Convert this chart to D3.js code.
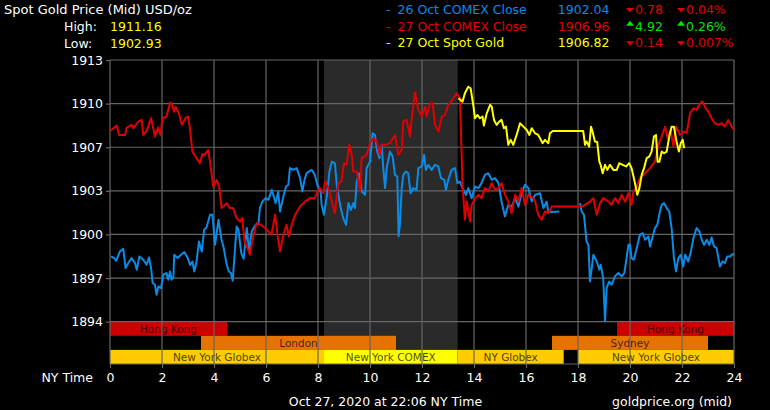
<!DOCTYPE html>
<html><head><meta charset="utf-8">
<script src="https://cdn.jsdelivr.net/npm/d3@7"></script>
<style>
html,body{margin:0;padding:0;background:#000;}
svg{display:block;font-family:"DejaVu Sans",Verdana,sans-serif;}
</style></head>
<body><svg id="c" width="770" height="410"></svg>
<script>
// ---------------- DATA ----------------
const titleText = "Spot Gold Price (Mid) USD/oz";
const highLowLabels = ["High:", "Low:"];
const highLowValues = ["1911.16", "1902.93"];

const seriesNames = ["26 Oct COMEX Close", "27 Oct COMEX Close", "27 Oct Spot Gold"];
const seriesPrices = ["1902.04", "1906.96", "1906.82"];
const seriesChange = ["0.78", "4.92", "0.14"];
const seriesChangePct = ["0.04%", "0.26%", "0.007%"];
const seriesDir = ["down", "up", "down"];

const xTickValues = [0, 2, 4, 6, 8, 10, 12, 14, 16, 18, 20, 22, 24];
const xTickLabels = ["0", "2", "4", "6", "8", "10", "12", "14", "16", "18", "20", "22", "24"];
const yTickValues = [1894, 1897.1667, 1900.3333, 1903.5, 1906.6667, 1909.8333, 1913];
const yTickLabels = ["1894", "1897", "1900", "1903", "1907", "1910", "1913"];

const sessionNames = ["Hong Kong", "Hong Kong", "London", "Sydney", "New York Globex", "New York COMEX", "NY Globex", "New York Globex"];
const sessionStart = [0, 19.5, 3.5, 17, 0, 8.23, 13.37, 18];
const sessionEnd = [4.5, 24, 11, 23, 8.23, 13.37, 17.45, 24];
const sessionRow = [0, 0, 1, 1, 2, 2, 2, 2];
const comexWindow = [8.23, 13.37];

const blueHours = [0.04,0.16,0.24,0.38,0.51,0.60,0.70,0.83,0.96,1.03,1.13,1.28,1.41,1.50,1.58,1.64,1.73,1.79,1.86,1.96,2.05,2.17,2.24,2.31,2.37,2.44,2.47,2.60,2.73,2.86,2.99,3.08,3.17,3.24,3.33,3.42,3.53,3.62,3.71,3.85,3.94,4.04,4.17,4.29,4.37,4.49,4.57,4.65,4.72,4.81,4.87,4.94,5.05,5.14,5.26,5.35,5.45,5.58,5.71,5.77,5.86,5.99,6.09,6.22,6.28,6.37,6.47,6.54,6.67,6.77,6.86,6.92,7.05,7.18,7.31,7.40,7.48,7.56,7.65,7.76,7.88,7.97,8.10,8.14,8.23,8.33,8.44,8.53,8.65,8.72,8.85,8.97,9.08,9.17,9.27,9.36,9.42,9.49,9.59,9.68,9.81,9.87,10.00,10.10,10.19,10.28,10.36,10.45,10.51,10.58,10.64,10.77,10.87,10.96,11.05,11.10,11.15,11.22,11.28,11.38,11.47,11.56,11.67,11.79,11.86,11.99,12.08,12.15,12.24,12.37,12.50,12.63,12.73,12.86,12.92,13.01,13.14,13.27,13.36,13.46,13.56,13.69,13.78,13.91,14.04,14.17,14.29,14.42,14.55,14.68,14.81,14.94,15.06,15.19,15.32,15.45,15.58,15.71,15.83,15.96,16.09,16.22,16.35,16.54,16.67,16.79,16.86,16.99,17.28,17.60,18.08,18.14,18.23,18.33,18.40,18.46,18.53,18.59,18.72,18.82,18.87,18.97,19.04,19.10,19.20,19.29,19.42,19.55,19.68,19.78,19.85,19.94,20.00,20.06,20.15,20.26,20.38,20.49,20.58,20.71,20.77,20.87,20.96,21.05,21.15,21.22,21.31,21.41,21.51,21.60,21.69,21.77,21.86,21.95,22.05,22.12,22.24,22.33,22.44,22.56,22.67,22.76,22.85,22.95,23.05,23.14,23.23,23.33,23.40,23.46,23.56,23.65,23.74,23.85,23.95,24.00];
const bluePrices = [1898.74,1898.62,1898.42,1899.10,1899.29,1897.89,1898.26,1898.62,1898.26,1897.77,1898.74,1898.50,1898.13,1898.66,1897.89,1896.81,1896.68,1895.96,1896.56,1896.44,1897.41,1897.53,1897.05,1897.65,1897.05,1897.29,1898.86,1898.62,1898.86,1899.05,1898.62,1898.13,1898.37,1897.65,1898.37,1899.82,1899.10,1900.67,1900.84,1901.76,1901.76,1899.58,1901.40,1899.95,1899.39,1898.13,1897.65,1897.53,1896.97,1899.34,1900.91,1900.67,1898.98,1898.57,1900.80,1899.10,1900.55,1900.98,1901.16,1902.29,1902.72,1902.97,1902.85,1903.57,1903.21,1902.61,1903.45,1902.00,1903.09,1903.81,1903.94,1905.15,1905.02,1905.15,1904.42,1903.45,1904.30,1904.78,1904.90,1905.02,1904.66,1903.94,1903.45,1902.48,1901.76,1902.97,1904.90,1905.62,1905.51,1903.94,1902.48,1901.52,1901.03,1902.61,1902.12,1902.61,1902.25,1904.17,1904.78,1903.45,1903.21,1905.15,1905.62,1907.68,1907.56,1906.35,1905.87,1906.84,1905.15,1903.70,1905.15,1906.35,1905.99,1904.66,1904.54,1900.19,1901.03,1903.70,1904.66,1904.90,1904.78,1903.33,1903.70,1903.57,1905.15,1905.27,1906.11,1905.02,1905.39,1905.02,1905.39,1905.27,1904.42,1904.30,1903.57,1904.30,1905.02,1905.15,1904.06,1904.17,1903.70,1903.21,1903.70,1902.97,1903.81,1903.70,1904.06,1904.66,1904.78,1904.30,1904.42,1904.06,1902.72,1901.64,1902.48,1902.36,1902.97,1902.36,1903.33,1903.94,1903.70,1902.72,1903.21,1903.33,1902.25,1902.72,1902.00,1901.96,1902.00,null,1902.61,1902.00,1901.76,1899.82,1899.58,1896.92,1897.89,1898.86,1898.37,1897.77,1898.13,1897.17,1894.02,1896.44,1896.92,1896.68,1897.29,1897.53,1897.29,1897.53,1898.37,1899.58,1899.58,1898.62,1898.50,1899.34,1900.31,1900.43,1899.95,1900.19,1899.46,1900.19,1900.80,1901.03,1902.00,1902.48,1902.61,1902.25,1902.00,1900.80,1898.62,1897.65,1898.62,1898.86,1898.01,1898.86,1898.37,1898.98,1900.07,1900.80,1900.55,1899.95,1899.58,1899.95,1899.58,1900.11,1899.46,1899.34,1898.62,1898.01,1898.37,1898.26,1898.74,1898.74,1898.91,1898.86];

const redHours = [0.00,0.26,0.35,0.58,0.64,0.83,0.90,1.09,1.22,1.28,1.41,1.58,1.73,1.85,1.95,2.01,2.17,2.31,2.37,2.46,2.52,2.65,2.76,2.90,3.00,3.08,3.17,3.33,3.46,3.55,3.64,3.78,3.88,3.97,4.10,4.20,4.29,4.49,4.60,4.74,4.87,5.00,5.08,5.19,5.29,5.38,5.51,5.64,5.82,6.03,6.21,6.35,6.45,6.54,6.67,6.79,6.88,6.99,7.12,7.31,7.50,7.69,7.88,8.01,8.08,8.20,8.27,8.40,8.53,8.65,8.78,8.90,9.00,9.10,9.20,9.30,9.36,9.49,9.62,9.68,9.87,10.00,10.13,10.26,10.38,10.45,10.58,10.77,10.96,11.09,11.22,11.28,11.41,11.54,11.60,11.73,11.86,11.99,12.12,12.18,12.31,12.41,12.50,12.63,12.76,12.88,13.01,13.21,13.33,13.46,13.56,13.65,13.72,13.85,13.91,14.04,14.17,14.29,14.42,14.55,14.68,14.81,14.94,15.06,15.19,15.32,15.45,15.58,15.71,15.83,15.96,16.09,16.28,16.35,16.47,16.60,16.73,16.86,16.99,18.14,18.27,18.46,18.59,18.72,18.85,18.97,19.17,19.29,19.42,19.55,19.68,19.81,19.94,20.06,20.13,20.26,20.38,20.58,20.77,20.96,21.09,21.22,21.35,21.45,21.56,21.67,21.77,21.92,22.08,22.18,22.31,22.44,22.56,22.69,22.79,22.88,23.01,23.14,23.27,23.40,23.53,23.65,23.78,23.91,24.00];
const redPrices = [1907.85,1908.24,1907.56,1907.56,1908.09,1908.29,1908.05,1908.53,1908.65,1907.56,1907.85,1908.77,1907.44,1908.09,1907.56,1908.77,1908.89,1909.90,1909.86,1909.25,1909.61,1909.13,1908.29,1908.77,1908.89,1907.92,1906.35,1905.87,1905.51,1906.16,1906.11,1906.47,1905.15,1903.81,1904.30,1903.81,1902.25,1902.61,1902.25,1902.25,1901.52,1901.27,1901.52,1899.71,1899.34,1898.86,1900.19,1901.16,1901.03,1900.67,1900.31,1901.76,1900.19,1899.10,1900.31,1901.03,1900.19,1901.03,1901.76,1902.36,1902.72,1902.97,1902.97,1903.57,1903.70,1903.33,1904.17,1903.70,1902.72,1901.88,1904.06,1904.17,1905.51,1905.39,1906.84,1906.11,1904.90,1904.90,1903.45,1905.87,1906.11,1906.96,1907.32,1907.08,1906.11,1906.84,1906.84,1906.96,1907.56,1906.11,1906.47,1908.53,1908.65,1907.44,1908.65,1910.66,1909.37,1908.89,1909.61,1908.89,1909.86,1909.86,1908.29,1907.80,1908.89,1909.01,1909.74,1910.22,1910.59,1910.22,1903.94,1901.40,1902.72,1901.27,1902.48,1902.97,1903.21,1902.97,1903.70,1903.45,1904.06,1903.57,1903.70,1904.06,1903.21,1902.72,1901.88,1903.21,1902.72,1903.70,1902.48,1903.21,1902.97,1902.72,1901.76,1901.40,1902.00,1901.88,1902.36,1902.36,1902.48,1902.72,1902.97,1901.76,1902.61,1902.97,1902.72,1902.48,1902.97,1902.61,1903.21,1902.72,1903.33,1902.48,1903.45,1903.81,1904.42,1904.78,1905.15,1905.62,1906.84,1907.44,1908.16,1907.32,1907.92,1906.71,1908.16,1907.56,1907.80,1907.68,1909.13,1909.50,1909.37,1909.86,1909.98,1909.61,1909.25,1908.77,1908.41,1908.29,1908.41,1908.16,1908.65,1908.16,1907.92];

const yellowHours = [13.40,13.56,13.65,13.78,13.87,13.97,14.04,14.13,14.23,14.33,14.38,14.49,14.62,14.68,14.77,14.87,14.97,15.06,15.15,15.23,15.32,15.41,15.51,15.64,15.77,15.90,16.03,16.13,16.22,16.35,16.47,16.54,16.64,16.73,16.86,16.92,17.03,18.20,18.27,18.33,18.43,18.50,18.56,18.65,18.74,18.82,18.87,18.95,19.04,19.13,19.23,19.36,19.49,19.59,19.72,19.85,19.97,20.06,20.15,20.23,20.28,20.36,20.45,20.54,20.64,20.74,20.83,20.92,21.00,21.06,21.13,21.22,21.31,21.41,21.51,21.60,21.69,21.79,21.88,21.95,22.03,22.08];
const yellowPrices = [1910.22,1909.98,1910.59,1911.06,1910.95,1909.74,1908.77,1909.01,1908.77,1908.89,1908.24,1909.13,1909.74,1909.61,1908.65,1908.29,1908.53,1908.65,1908.05,1908.16,1906.84,1907.20,1906.84,1907.56,1908.41,1908.16,1907.92,1907.56,1908.05,1907.68,1907.56,1907.32,1906.96,1907.20,1906.96,1907.68,1907.85,1907.85,1906.84,1907.08,1906.71,1908.16,1907.80,1907.08,1907.04,1905.62,1905.39,1904.78,1905.39,1905.02,1905.39,1905.02,1905.02,1905.51,1905.39,1905.27,1905.51,1905.15,1904.42,1903.70,1903.21,1903.70,1904.66,1905.15,1905.87,1905.99,1906.35,1907.44,1907.56,1905.62,1905.62,1906.35,1906.23,1906.35,1907.44,1908.16,1908.16,1907.08,1906.35,1906.96,1907.20,1906.60];

const footerDate = "Oct 27, 2020 at 22:06 NY Time";
const footerSource = "goldprice.org (mid)";
const xAxisTitle = "NY Time";

// ---------------- STYLE / LAYOUT ----------------
const C = {
  bg: "#000", grid: "#666", text: "#fff", shade: "#2a2a2a",
  blue: "#0a8be6", red: "#e00000", yellow: "#ffff00", green: "#00e600",
  hk: "#cc0000", ldn: "#e67300", globex: "#ffcc00", comex: "#ffff00",
  barText: "rgba(0,0,0,0.72)"
};
const sessionColors = [C.hk, C.hk, C.ldn, C.ldn, C.globex, C.comex, C.globex, C.globex];
const seriesColors = [C.blue, C.red, C.yellow];

const svg = d3.select("#c");
const pL = 110, pR = 734, pT = 60, pB = 364;
const x = d3.scaleLinear().domain([0, 24]).range([pL, pR]);
const y = d3.scaleLinear().domain([1894, 1913]).range([321.7, pT]);
const rowH = (pB - y(1894)) / 3;
const rowTop = r => y(1894) + r * rowH;

svg.append("rect").attr("width", 770).attr("height", 410).attr("fill", C.bg);

// COMEX shaded window
svg.append("rect")
  .attr("x", x(comexWindow[0])).attr("y", pT)
  .attr("width", x(comexWindow[1]) - x(comexWindow[0]))
  .attr("height", rowTop(2) - pT)
  .attr("fill", C.shade);

// Session bars
const sess = sessionNames.map((n, i) => ({n, s: sessionStart[i], e: sessionEnd[i], r: sessionRow[i], c: sessionColors[i]}));
const sg = svg.append("g");
sg.selectAll("rect").data(sess).join("rect")
  .attr("x", d => x(d.s)).attr("y", d => rowTop(d.r))
  .attr("width", d => x(d.e) - x(d.s)).attr("height", rowH)
  .attr("fill", d => d.c);
sg.selectAll("text").data(sess).join("text")
  .attr("x", d => (x(d.s) + x(d.e)) / 2)
  .attr("y", d => rowTop(d.r) + rowH / 2 + 4)
  .attr("text-anchor", "middle")
  .attr("font-size", "10.5px")
  .attr("fill", C.barText)
  .text(d => d.n);

// Grid
const grid = svg.append("g").attr("stroke", C.grid).attr("stroke-width", 1.2);
grid.selectAll(".h").data(yTickValues).join("line")
  .attr("x1", pL).attr("x2", pR)
  .attr("y1", d => y(d)).attr("y2", d => y(d));
grid.selectAll(".v").data(xTickValues).join("line")
  .attr("x1", d => x(d)).attr("x2", d => x(d))
  .attr("y1", pT).attr("y2", pB);
grid.append("line").attr("x1", pL).attr("x2", pR).attr("y1", pB).attr("y2", pB);

// Axes
const yAxis = d3.axisLeft(y).tickValues(yTickValues)
  .tickFormat((d, i) => yTickLabels[i]).tickSize(4).tickPadding(3);
const ya = svg.append("g").attr("transform", `translate(${pL},0)`).call(yAxis);
ya.select(".domain").remove();
ya.selectAll("line").attr("stroke", C.grid).attr("stroke-width", 1.2);
ya.selectAll("text").attr("fill", C.text).attr("font-size", "12.5px").attr("font-family", "DejaVu Sans, Verdana, sans-serif");

const xAxis = d3.axisBottom(x).tickValues(xTickValues)
  .tickFormat((d, i) => xTickLabels[i]).tickSize(4).tickPadding(5);
const xa = svg.append("g").attr("transform", `translate(0,${pB})`).call(xAxis);
xa.select(".domain").remove();
xa.selectAll("line").attr("stroke", C.grid).attr("stroke-width", 1.2);
xa.selectAll("text").attr("fill", C.text).attr("font-size", "12.5px").attr("font-family", "DejaVu Sans, Verdana, sans-serif");

svg.append("text").attr("x", 93).attr("y", 382).attr("text-anchor", "end")
  .attr("fill", C.text).attr("font-size", "12.5px").text(xAxisTitle);

// Lines
const line = d3.line()
  .defined(d => d.v !== null)
  .x(d => x(d.t)).y(d => y(d.v));
const toPts = (hs, vs) => hs.map((t, i) => ({t, v: vs[i]}));
const seriesData = [toPts(blueHours, bluePrices), toPts(redHours, redPrices), toPts(yellowHours, yellowPrices)];
svg.append("g").selectAll("path").data(seriesData).join("path")
  .attr("d", line)
  .attr("fill", "none")
  .attr("stroke", (d, i) => seriesColors[i])
  .attr("stroke-width", 2)
  .attr("stroke-linejoin", "round");

// Header: title, high/low
const fs = "12.5px";
svg.append("text").attr("x", 4).attr("y", 14).attr("fill", C.text).attr("font-size", "13px").text(titleText);
highLowLabels.forEach((lab, i) => {
  const by = 31 + i * 16.7;
  svg.append("text").attr("x", 64).attr("y", by).attr("fill", C.text).attr("font-size", fs).text(lab);
  svg.append("text").attr("x", 110).attr("y", by).attr("fill", C.yellow).attr("font-size", fs).text(highLowValues[i]);
});

// Right legend
function tri(g, x0, by, dir, col) {
  const p = dir === "down"
    ? [[x0, by - 6], [x0 + 8, by - 6], [x0 + 4, by - 1.6]]
    : [[x0 + 4, by - 9.8], [x0, by - 4.8], [x0 + 8, by - 4.8]];
  g.append("path").attr("d", d3.line()(p) + "Z").attr("fill", col);
}
seriesNames.forEach((n, i) => {
  const by = 14 + i * 16.65;
  const col = seriesColors[i];
  const chCol = seriesDir[i] === "up" ? C.green : C.red;
  const g = svg.append("g").attr("font-size", fs);
  g.append("text").attr("x", 386).attr("y", by).attr("fill", col).text("-");
  g.append("text").attr("x", 397.5).attr("y", by).attr("fill", col).text(n);
  g.append("text").attr("x", 609.5).attr("y", by).attr("text-anchor", "end").attr("fill", col).text(seriesPrices[i]);
  tri(g, 626, by, seriesDir[i], chCol);
  g.append("text").attr("x", 635).attr("y", by).attr("fill", chCol).text(seriesChange[i]);
  tri(g, 677, by, seriesDir[i], chCol);
  g.append("text").attr("x", 686).attr("y", by).attr("fill", chCol).text(seriesChangePct[i]);
});

// Footer
svg.append("text").attr("x", 385.5).attr("y", 406).attr("text-anchor", "middle")
  .attr("fill", C.text).attr("font-size", fs).text(footerDate);
svg.append("text").attr("x", 732).attr("y", 406).attr("text-anchor", "end")
  .attr("fill", C.text).attr("font-size", fs).text(footerSource);
</script>
</body></html>
